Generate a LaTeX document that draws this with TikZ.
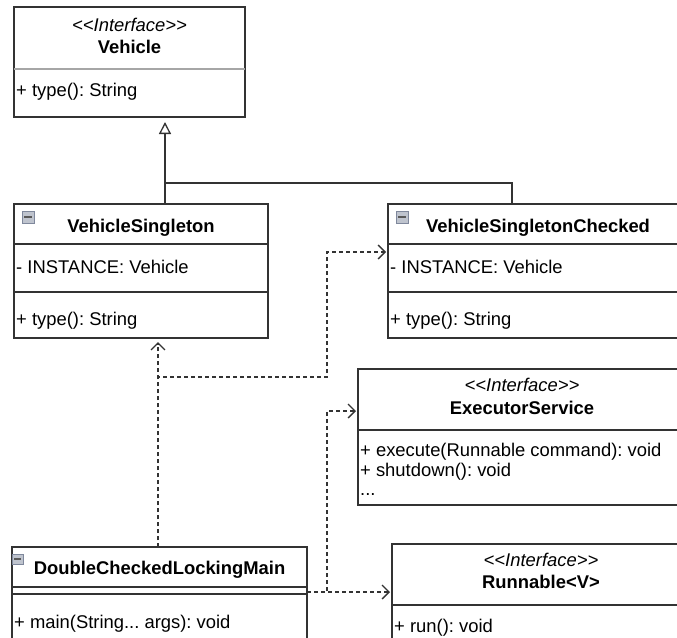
\documentclass[tikz,border=0pt]{standalone}
\usepackage{fontspec}
\setmainfont{Liberation Sans}
\usetikzlibrary{arrows.meta}
\definecolor{linec}{HTML}{333333}
\definecolor{iconfill}{HTML}{BFC4CE}
\definecolor{icondraw}{HTML}{7F889C}
\newcommand{\basefnt}{\fontsize{18.4}{22}\selectfont\frenchspacing}
\newcommand{\stereotxt}{<\kern0pt<Interface>\kern0pt>}
\begin{document}
\begin{tikzpicture}[x=1pt,y=-1pt,
  umlbox/.style={draw=linec, line width=1.3pt, fill=white, anchor=north west, inner sep=0pt, outer sep=0pt},
  divider/.style={draw=linec, line width=1.3pt},
  lightdiv/.style={draw=gray!70, line width=1.3pt},
  member/.style={anchor=west, inner sep=0pt, text height=13.5pt, text depth=0pt, font=\basefnt},
  titletxt/.style={inner sep=0pt, text height=13.5pt, text depth=0pt, font=\basefnt\bfseries},
  stereo/.style={inner sep=0pt, text height=13.5pt, text depth=0pt, font=\basefnt\itshape},
  icon/.style={draw=icondraw, fill=iconfill, line width=0.7pt},
  icondash/.style={draw=black!65, line width=1.5pt},
  dep/.style={draw=linec, line width=1.3pt, dash pattern=on 4pt off 3pt, -{Straight Barb[length=7pt,width=14pt]}},
  gen/.style={draw=linec, line width=1.3pt, -{Triangle[open,length=12pt,width=12pt]}},
  genline/.style={draw=linec, line width=1.3pt}
]
\useasboundingbox (0,0) rectangle (677,637);
\clip (0,0) rectangle (677,637);

% ---------- Vehicle ----------
\node[umlbox, minimum width=231pt, minimum height=110pt] (vehicle) at (14,7) {};
\draw[lightdiv] (14,69) -- (245,69);
\node[stereo] (vehst) at (129.5,25) {\stereotxt};
\node[titletxt] (vehtt) at (129.5,47) {Vehicle};
\node[member] (vehm1) at (16,90) {+ type(): String};

% ---------- VehicleSingleton ----------
\node[umlbox, minimum width=254pt, minimum height=134pt] (vs) at (14,204) {};
\draw[divider] (14,244) -- (268,244);
\draw[divider] (14,292) -- (268,292);
\draw[icon] (22,211) rectangle (34,223);
\draw[icondash] (24,217) -- (32,217);
\node[titletxt] (vstt) at (141,226) {VehicleSingleton};
\node[member] (vsa1) at (16,267) {- INSTANCE: Vehicle};
\node[member] (vsm1) at (16,319) {+ type(): String};

% ---------- VehicleSingletonChecked ----------
\node[umlbox, minimum width=300pt, minimum height=134pt] (vsc) at (388,204) {};
\draw[divider] (388,244) -- (688,244);
\draw[divider] (388,292) -- (688,292);
\draw[icon] (396,211) rectangle (408,223);
\draw[icondash] (398,217) -- (406,217);
\node[titletxt] (vsctt) at (538,226) {VehicleSingletonChecked};
\node[member] (vsca1) at (390,267) {- INSTANCE: Vehicle};
\node[member] (vscm1) at (390,319) {+ type(): String};

% ---------- ExecutorService ----------
\node[umlbox, minimum width=328pt, minimum height=136pt] (exec) at (358,369) {};
\draw[divider] (358,430) -- (686,430);
\node[stereo] (exst) at (522,385) {\stereotxt};
\node[titletxt] (extt) at (522,408) {ExecutorService};
\node[member] (exm1) at (360,450) {+ execute(Runnable command): void};
\node[member] (exm2) at (360,470) {+ shutdown(): void};
\node[member] (exm3) at (360,489) {...};

% ---------- Runnable<V> ----------
\node[umlbox, minimum width=298pt, minimum height=120pt] (run) at (392,544) {};
\draw[divider] (392,605) -- (690,605);
\node[stereo] (runst) at (541,560) {\stereotxt};
\node[titletxt] (runtt) at (541,582) {Runnable<V>};
\node[member] (runm1) at (394,626) {+ run(): void};

% ---------- DoubleCheckedLockingMain ----------
\node[umlbox, minimum width=295pt, minimum height=110pt] (main) at (12,547) {};
\draw[divider] (12,587) -- (307,587);
\draw[divider] (12,594) -- (307,594);
\draw[icon] (12,554) rectangle (23,564);
\draw[icondash] (14,559) -- (21,559);
\node[titletxt] (maintt) at (159.5,568) {DoubleCheckedLockingMain};
\node[member] (mainm1) at (14,622) {+ main(String... args): void};

% ---------- connector points ----------
\coordinate (vsTop) at (165,204);
\coordinate (vehTip) at (165,122);
\coordinate (genJ) at (165,183);
\coordinate (genR) at (512,183);
\coordinate (vscTop) at (512,204);

\coordinate (mainTop) at (158,547);
\coordinate (vsBotTip) at (158,342);
\coordinate (d1a) at (158,377);
\coordinate (d1b) at (327,377);
\coordinate (d1c) at (327,252);
\coordinate (vscTip) at (386,252);

\coordinate (mainR) at (307,592);
\coordinate (d2a) at (327,592);
\coordinate (d2b) at (327,411);
\coordinate (execTip) at (356,411);
\coordinate (runTip) at (390,592);

% ---------- generalization ----------
\draw[gen] (vsTop) -- (vehTip);
\draw[genline] (vscTop) -- (genR) -- (genJ);

% ---------- dependencies ----------
\draw[dep] (mainTop) -- (vsBotTip);
\draw[dep] (mainTop) -- (d1a) -- (d1b) -- (d1c) -- (vscTip);
\draw[dep] (mainR) -- (runTip);
\draw[dep] (mainR) -- (d2a) -- (d2b) -- (execTip);
\end{tikzpicture}
\end{document}
